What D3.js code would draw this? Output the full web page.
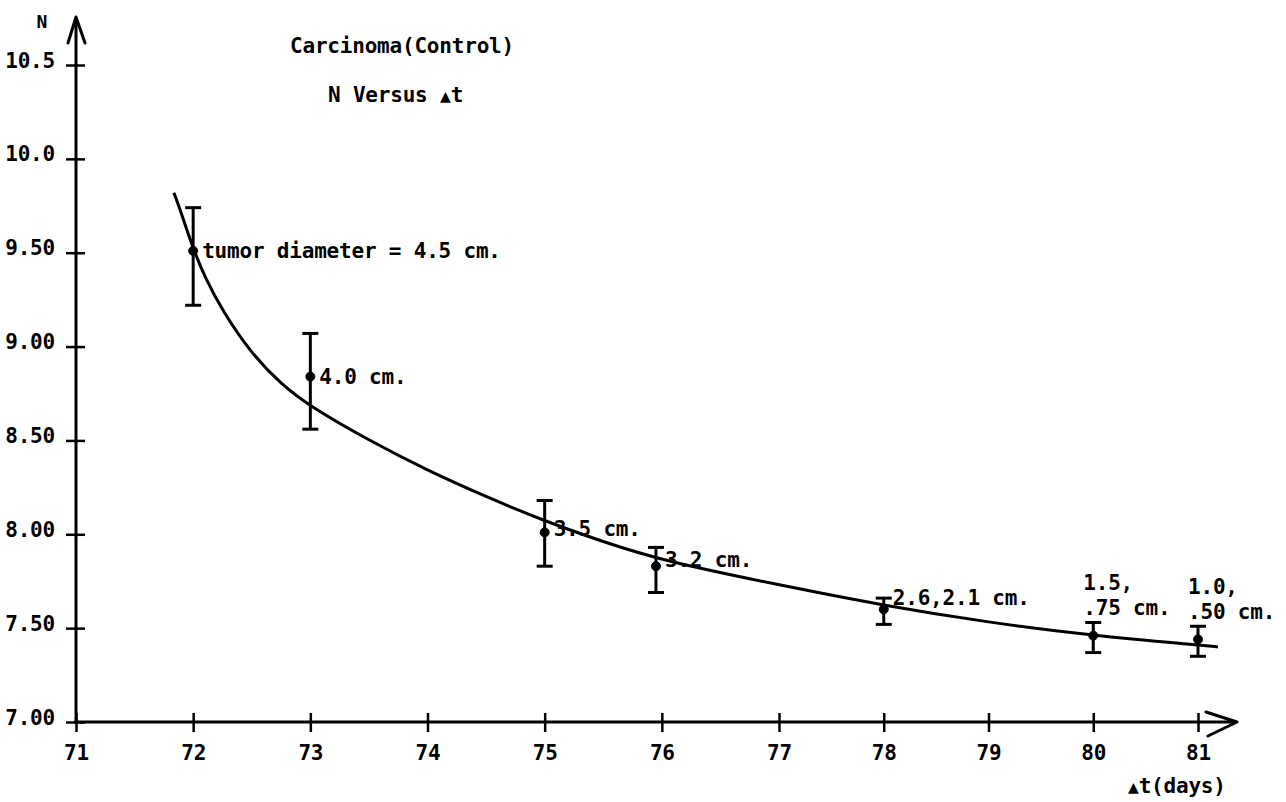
<!DOCTYPE html>
<html>

<head>
    <meta charset="utf-8">
    <title>Carcinoma (Control) - N versus delta t</title>
    <style>
        body { margin: 0; background: #fff; }
        text { font-family: "DejaVu Sans Mono", "Liberation Mono", monospace; font-weight: bold; fill: #000; }
    </style>
</head>

<body>
    <svg class="chart"></svg>
    <script src="https://cdn.jsdelivr.net/npm/d3@7/dist/d3.min.js"></script>
    <script type="text/javascript">
    // measured points with error bars
    var days = [72, 73, 75, 75.95, 78, 80, 81];
    var nValues = [9.51, 8.84, 8.01, 7.83, 7.60, 7.46, 7.44];
    var errHigh = [9.74, 9.07, 8.18, 7.93, 7.66, 7.53, 7.51];
    var errLow = [9.22, 8.56, 7.83, 7.69, 7.52, 7.37, 7.35];
    var pointLabels = [
        ["tumor diameter = 4.5 cm."],
        ["4.0 cm."],
        ["3.5 cm."],
        ["3.2 cm."],
        ["2.6,2.1 cm."],
        ["1.5,", ".75 cm."],
        ["1.0,", ".50 cm."]
    ];

    // hand drawn fitted curve
    var curveDays = [71.835, 71.9, 72, 72.1, 72.25, 72.5, 72.75, 73, 73.5, 74, 74.5, 75, 75.5, 76, 77, 78, 79, 80, 81, 81.19];
    var curveN = [9.82, 9.71, 9.52, 9.37, 9.19, 8.96, 8.80, 8.68, 8.50, 8.34, 8.20, 8.07, 7.96, 7.86, 7.73, 7.62, 7.53, 7.46, 7.41, 7.40];

    // axes
    var xTicks = [71, 72, 73, 74, 75, 76, 77, 78, 79, 80, 81];
    var yTicks = [10.5, 10, 9.5, 9, 8.5, 8, 7.5, 7];
    var yTickLabels = ["10.5", "10.0", "9.50", "9.00", "8.50", "8.00", "7.50", "7.00"];

    var width = 1286,
        height = 802,
        fontSize = '21px',
        spacing = -0.2;

    var svg = d3.select('.chart')
        .attr('width', width)
        .attr('height', height);

    // the original axis is hand ruled, a bit wider on the left part
    var x = d3.scaleLinear()
        .domain([71, 77, 81])
        .range([76, 779, 1198]);
    var y = d3.scaleLinear()
        .domain([7, 10.5])
        .range([722, 65]);

    var x0 = x(71),
        y0 = y(7);

    // x axis
    var xAxis = svg.append('g')
        .attr('transform', 'translate(0,' + y0 + ')')
        .call(d3.axisBottom(x)
            .tickValues(xTicks)
            .tickFormat(d3.format('d'))
            .tickSize(9));
    xAxis.select('.domain').remove();
    xAxis.selectAll('.tick line')
        .attr('y1', -9)
        .attr('y2', 10)
        .attr('stroke', '#000')
        .attr('stroke-width', 2.5);
    xAxis.selectAll('.tick text')
        .attr('y', 23)
        .attr('dy', '0.71em')
        .attr('letter-spacing', spacing)
        .style('font-size', fontSize)
        .style('font-family', null);

    // y axis
    var yAxis = svg.append('g')
        .attr('transform', 'translate(' + x0 + ',0)')
        .call(d3.axisLeft(y)
            .tickValues(yTicks)
            .tickFormat(function(d, i) {
                return yTickLabels[i];
            })
            .tickSize(9));
    yAxis.select('.domain').remove();
    yAxis.selectAll('.tick line')
        .attr('x1', 9)
        .attr('x2', -10)
        .attr('stroke', '#000')
        .attr('stroke-width', 2.5);
    yAxis.selectAll('.tick text')
        .attr('x', -21)
        .attr('dy', '0.1em')
        .attr('letter-spacing', spacing)
        .style('font-size', fontSize)
        .style('font-family', null);

    // axis lines with open arrow heads
    var axisLines = svg.append('g')
        .attr('fill', 'none')
        .attr('stroke', '#000')
        .attr('stroke-width', 3)
        .attr('stroke-linecap', 'round')
        .attr('stroke-linejoin', 'round');
    axisLines.append('path')
        .attr('d', 'M' + (x0 - 1) + ',' + y0 + 'H1237M1206,712L1237,' + y0 + 'L1208,736');
    axisLines.append('path')
        .attr('d', 'M' + x0 + ',' + y0 + 'V17M68,43L' + x0 + ',17L85,43');

    // fitted curve
    var line = d3.line()
        .x(function(d, i) { return x(d); })
        .y(function(d, i) { return y(curveN[i]); })
        .curve(d3.curveBasis);
    svg.append('path')
        .attr('d', line(curveDays))
        .attr('fill', 'none')
        .attr('stroke', '#000')
        .attr('stroke-width', 3);

    // error bars
    var bars = svg.selectAll('.bar')
        .data(days)
        .enter()
        .append('g')
        .attr('class', 'bar')
        .attr('stroke', '#000');
    bars.append('line')
        .attr('x1', function(d) { return x(d); })
        .attr('x2', function(d) { return x(d); })
        .attr('y1', function(d, i) { return y(errHigh[i]); })
        .attr('y2', function(d, i) { return y(errLow[i]); })
        .attr('stroke-width', 3);
    bars.append('line')
        .attr('x1', function(d) { return x(d) - 8; })
        .attr('x2', function(d) { return x(d) + 8; })
        .attr('y1', function(d, i) { return y(errHigh[i]); })
        .attr('y2', function(d, i) { return y(errHigh[i]); })
        .attr('stroke-width', 3);
    bars.append('line')
        .attr('x1', function(d) { return x(d) - 8; })
        .attr('x2', function(d) { return x(d) + 8; })
        .attr('y1', function(d, i) { return y(errLow[i]); })
        .attr('y2', function(d, i) { return y(errLow[i]); })
        .attr('stroke-width', 3);
    bars.append('circle')
        .attr('cx', function(d) { return x(d); })
        .attr('cy', function(d, i) { return y(nValues[i]); })
        .attr('r', 4.5)
        .attr('fill', '#000');

    // diameter labels next to the points
    var labelShift = [0, 0, -4, -7, -12];
    svg.selectAll('.plabel')
        .data(pointLabels)
        .enter()
        .append('text')
        .attr('class', 'plabel')
        .style('font-size', fontSize)
        .attr('letter-spacing', spacing)
        .each(function(lines, i) {
            var t = d3.select(this);
            if (lines.length == 1) {
                t.append('tspan')
                    .attr('x', x(days[i]) + 9)
                    .attr('y', y(nValues[i]) + labelShift[i])
                    .attr('dy', '0.35em')
                    .text(lines[0]);
            } else {
                lines.forEach(function(s, k) {
                    t.append('tspan')
                        .attr('x', x(days[i]) - 10)
                        .attr('y', y(errHigh[i]) - 40 + k * 25)
                        .attr('dy', '0.35em')
                        .text(s);
                });
            }
        });

    // titles and axis names
    svg.append('text')
        .attr('x', 290)
        .attr('y', 53)
        .attr('letter-spacing', spacing)
        .style('font-size', fontSize)
        .text('Carcinoma(Control)');

    var sub = svg.append('text')
        .attr('x', 328)
        .attr('y', 102)
        .attr('letter-spacing', spacing)
        .style('font-size', fontSize);
    sub.append('tspan').text('N Versus ');
    sub.append('tspan').style('font-size', '18px').text('▲');
    sub.append('tspan').text('t');

    svg.append('text')
        .attr('x', 42)
        .attr('y', 28)
        .style('text-anchor', 'middle')
        .style('font-size', '18px')
        .text('N');

    var xName = svg.append('text')
        .attr('x', 1128)
        .attr('y', 793)
        .attr('letter-spacing', spacing)
        .style('font-size', fontSize);
    xName.append('tspan').style('font-size', '18px').text('▲');
    xName.append('tspan').text('t(days)');
    </script>
</body>

</html>
